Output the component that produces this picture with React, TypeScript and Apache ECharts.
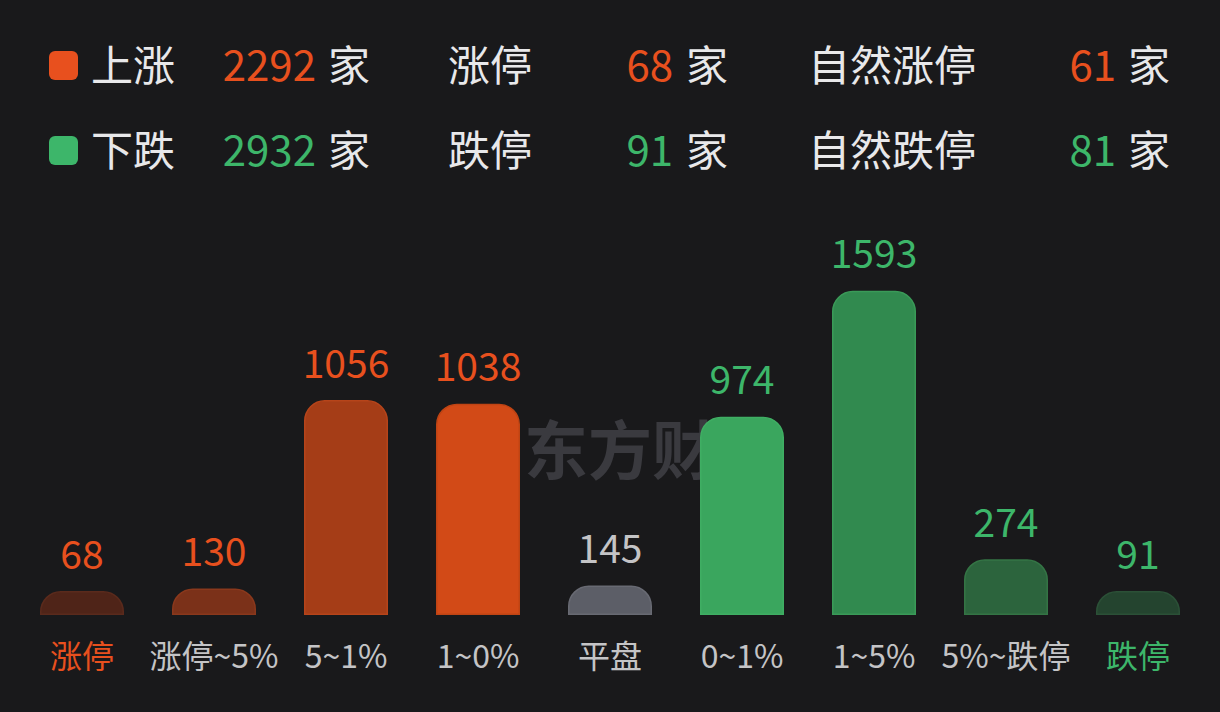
import { useEffect, useRef } from 'react';
import * as echarts from 'echarts';

// 涨跌分布
const categories = ['涨停', '涨停~5%', '5~1%', '1~0%', '平盘', '0~1%', '1~5%', '5%~跌停', '跌停'];
const counts = [68, 130, 1056, 1038, 145, 974, 1593, 274, 91];

// 顶部统计
const upRow = { name: '上涨', total: 2292, limit: '涨停', limitCount: 68, natural: '自然涨停', naturalCount: 61 };
const downRow = { name: '下跌', total: 2932, limit: '跌停', limitCount: 91, natural: '自然跌停', naturalCount: 81 };
const unit = '家';

const RED = '#e8501e';
const GREEN = '#3db66a';
const GRAY = '#c4c4c6';
const WHITE = '#e8e8ea';
const BG = '#19191b';
const FONT = '"Noto Sans CJK SC", "Noto Sans", sans-serif';

const barColors = ['#4f2418', '#7b3119', '#a53d17', '#d24a17', '#5c5e67', '#3aa65e', '#318a4f', '#2c643d', '#24442f'];
const borderColors = ['#5a2a1c', '#8a381c', '#b6441a', '#bf4414', '#686a73', '#3fae63', '#3a9a58', '#347445', '#2b5037'];
const valueColors = [RED, RED, RED, RED, GRAY, GREEN, GREEN, GREEN, GREEN];
const axisColors = [RED, GRAY, GRAY, GRAY, GRAY, GRAY, GRAY, GRAY, GREEN];

function headerRow(row: typeof upRow, y: number, color: string) {
  const base = { fontFamily: FONT, fontSize: 42, verticalAlign: 'middle' as const };
  return [
    { type: 'rect', shape: { x: 49, y: y - 11, width: 29, height: 29, r: 6 }, style: { fill: color } },
    { type: 'text', x: 91, y, style: { ...base, text: row.name, fill: WHITE, align: 'left' } },
    { type: 'text', x: 316, y, style: { ...base, text: String(row.total), fill: color, align: 'right' } },
    { type: 'text', x: 328, y, style: { ...base, text: unit, fill: WHITE, align: 'left' } },
    { type: 'text', x: 448, y, style: { ...base, text: row.limit, fill: WHITE, align: 'left' } },
    { type: 'text', x: 673, y, style: { ...base, text: String(row.limitCount), fill: color, align: 'right' } },
    { type: 'text', x: 686, y, style: { ...base, text: unit, fill: WHITE, align: 'left' } },
    { type: 'text', x: 808, y, style: { ...base, text: row.natural, fill: WHITE, align: 'left' } },
    { type: 'text', x: 1116, y, style: { ...base, text: String(row.naturalCount), fill: color, align: 'right' } },
    { type: 'text', x: 1128, y, style: { ...base, text: unit, fill: WHITE, align: 'left' } },
  ];
}

export default function App() {
  const chartRef = useRef<HTMLDivElement>(null);

  useEffect(() => {
    if (!chartRef.current) return;
    document.body.style.margin = '0';
    document.body.style.background = BG;

    const chart = echarts.init(chartRef.current, null, { renderer: 'svg' });

    const option = {
      animation: false,
      backgroundColor: BG,
      textStyle: { fontFamily: FONT },
      graphic: [
        // 水印
        {
          type: 'text',
          x: 652,
          y: 446,
          z: 0,
          style: {
            text: '东方财富',
            fontFamily: FONT,
            fontSize: 64,
            lineHeight: 60,
            fontWeight: 'bold',
            fill: '#3a3a3f',
            align: 'center',
            verticalAlign: 'middle',
          },
        },
        ...headerRow(upRow, 62, RED),
        ...headerRow(downRow, 147, GREEN),
      ],
      grid: { left: 16, right: 16, top: 208, bottom: 97 },
      xAxis: {
        type: 'category',
        data: categories,
        axisLine: { show: false },
        axisTick: { show: false },
        axisLabel: {
          interval: 0,
          margin: 23,
          fontSize: 32,
          fontFamily: FONT,
          color: (_v: string, i: number) => axisColors[i],
        },
      },
      yAxis: {
        type: 'value',
        min: 0,
        max: 2000,
        show: false,
        splitLine: { show: false },
      },
      series: [
        {
          type: 'bar',
          barWidth: 84,
          barMinHeight: 24,
          data: counts.map((v, i) => ({
            value: v,
            itemStyle: { color: barColors[i], borderColor: borderColors[i], borderWidth: 1.5 },
            label: { color: valueColors[i] },
          })),
          itemStyle: { borderRadius: [20, 20, 0, 0] },
          label: {
            show: true,
            position: 'top',
            distance: 20,
            fontSize: 39,
            fontFamily: FONT,
          },
        },
      ],
    };

    chart.setOption(option as echarts.EChartsOption);

    return () => {
      chart.dispose();
    };
  }, []);

  return <div ref={chartRef} style={{ width: 1220, height: 712 }} />;
}
